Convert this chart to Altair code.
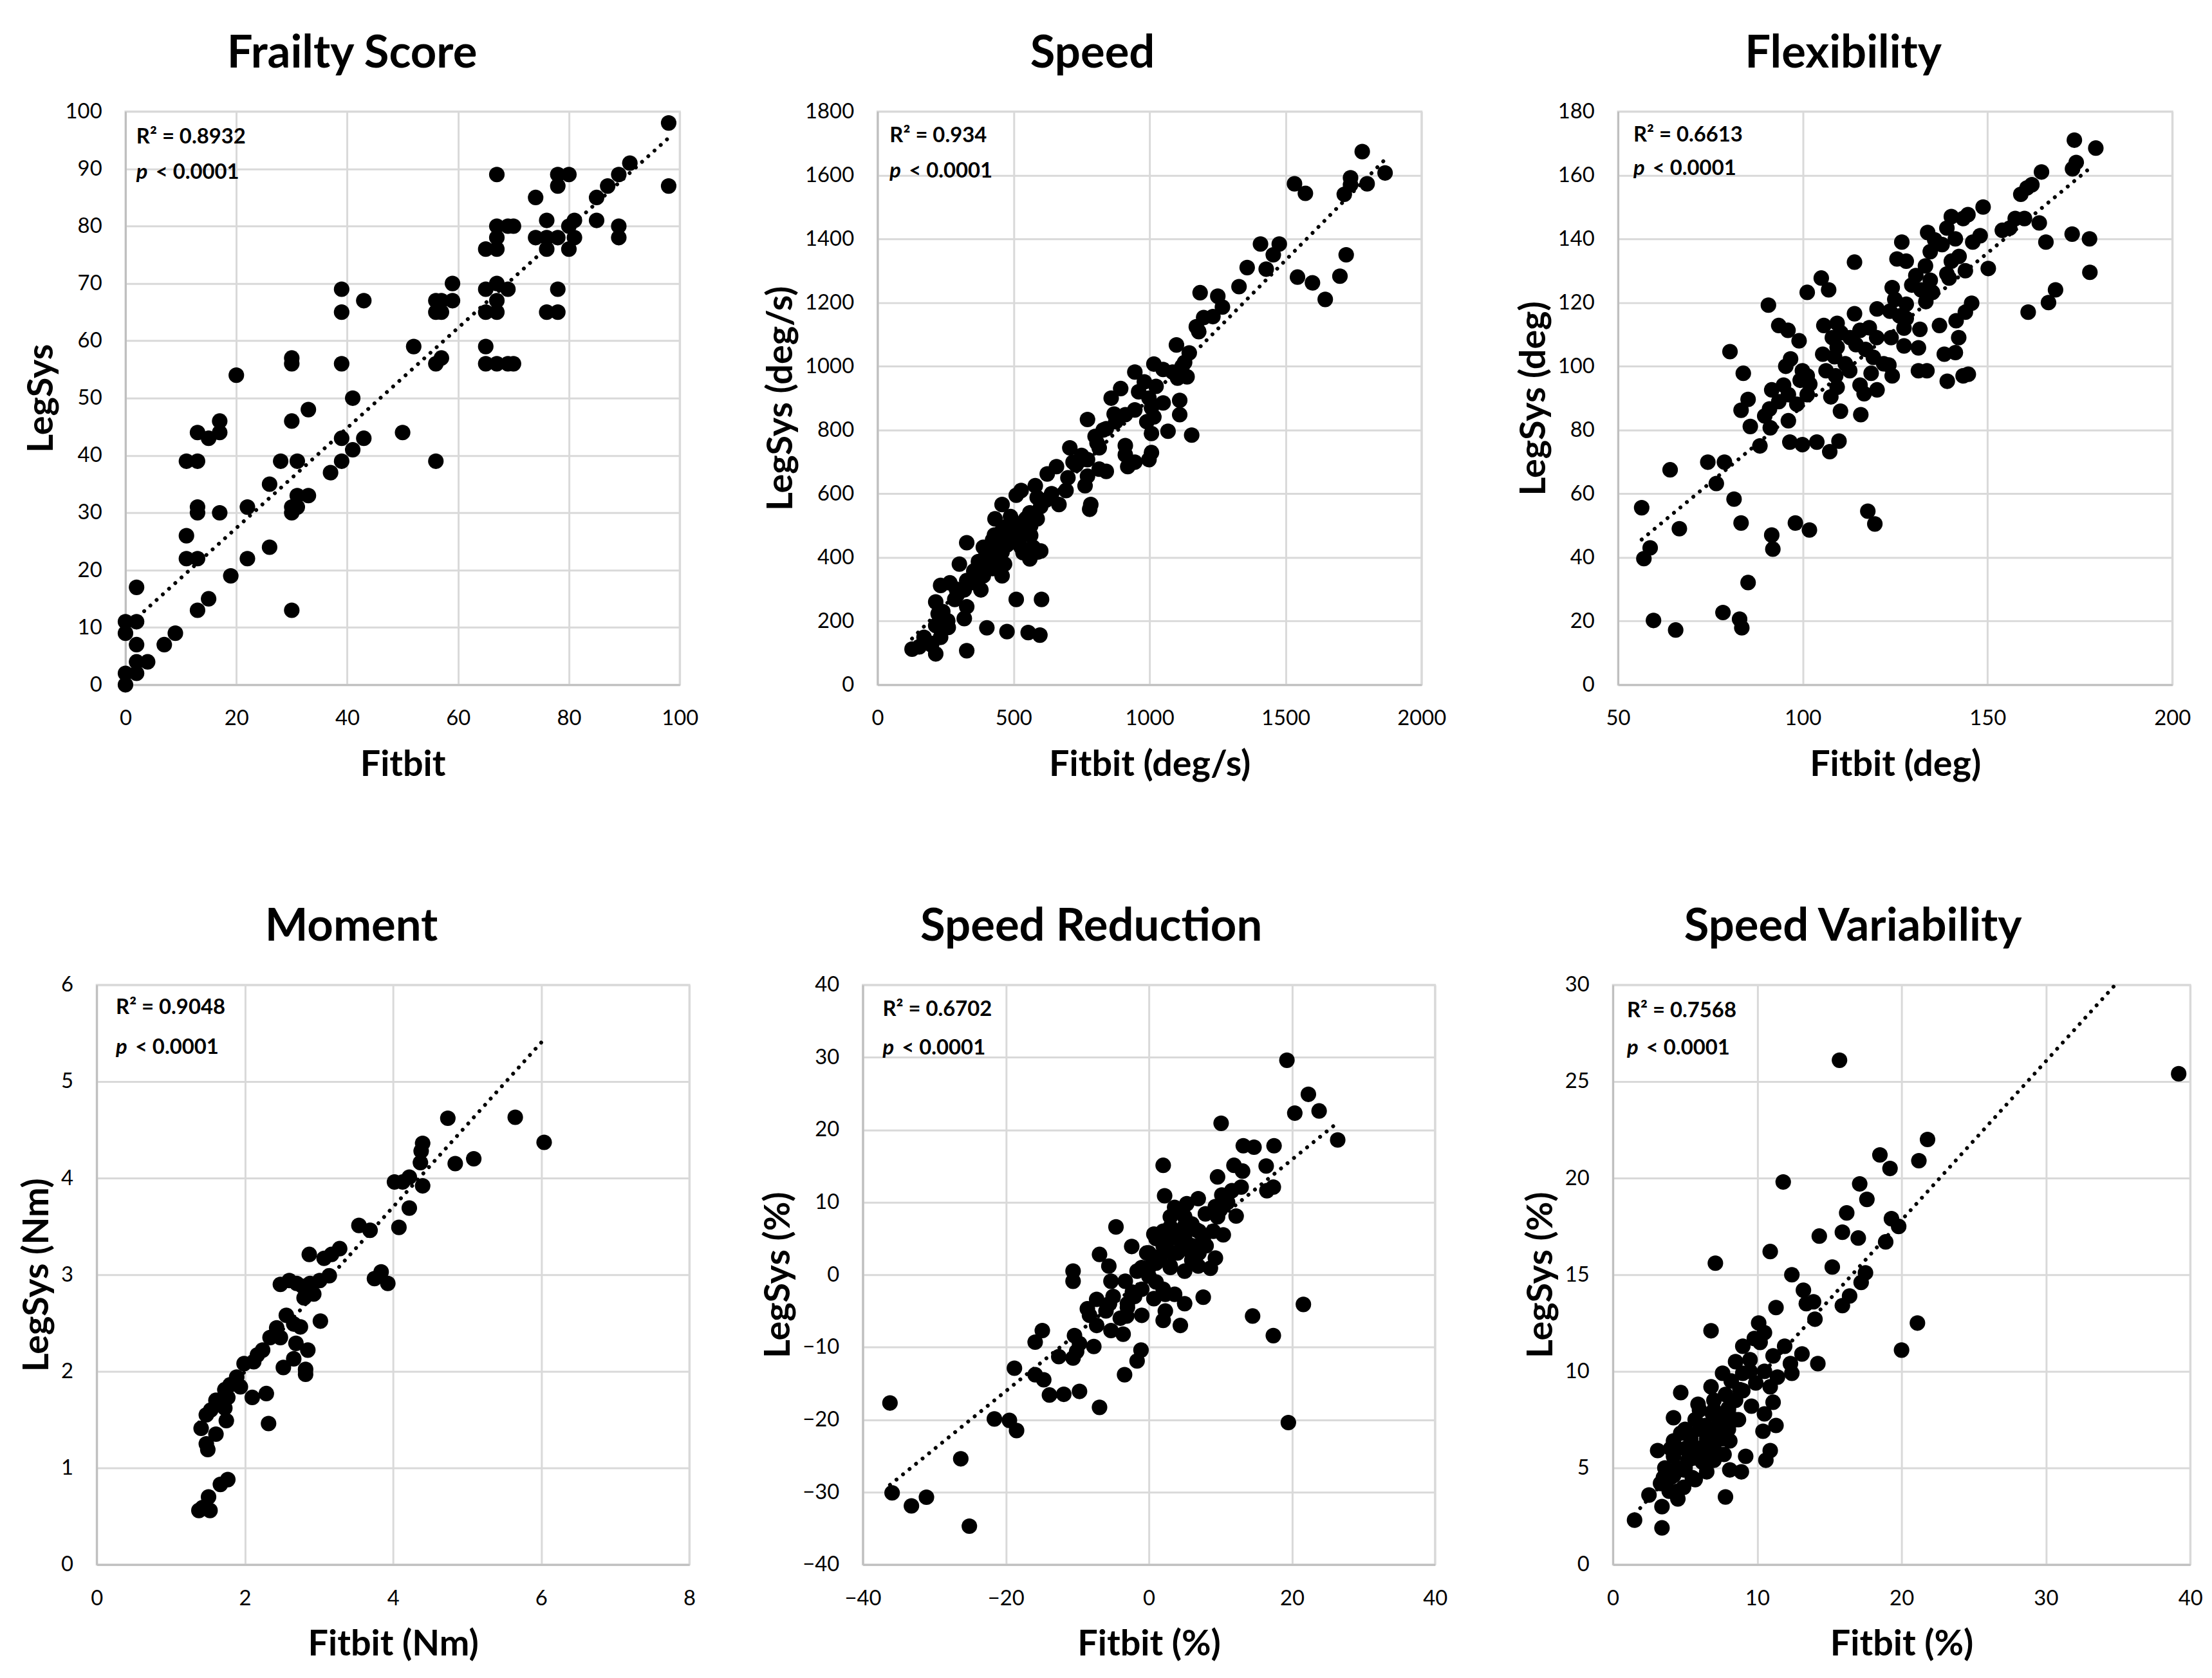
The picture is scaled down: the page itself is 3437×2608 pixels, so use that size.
import altair as alt
import pandas as pd

FONT = "Lato"
GRID = "#d9d9d9"
AXIS = "#bfbfbf"

# ---------------- data ----------------
frailty_pts = [(98,98),(98,87),(91,91),(89,89),(87,87),(85,85),(85,81),(89,80),(89,78),(81,81),(80,80),(81,78),(80,76),
 (80,89),(78,89),(78,87),(74,85),(74,78),(76,81),(76,78),(76,76),(78,78),(78,69),(76,65),(78,65),
 (67,89),(67,80),(70,80),(69,80),(67,78),(65,76),(67,76),(65,69),(67,70),(69,69),(67,67),(65,65),(67,65),
 (65,59),(65,56),(67,56),(69,56),(70,56),(59,70),(59,67),(56,67),(57,67),(56,65),(57,65),(57,57),(56,56),
 (52,59),(56,39),(50,44),(43,67),(39,69),(39,65),(39,56),(41,50),(39,43),(43,43),(41,41),(39,39),(37,37),
 (33,48),(30,57),(30,56),(30,46),(31,39),(28,39),(26,35),(33,33),(31,33),(30,31),(31,31),(30,30),(26,24),(30,13),
 (20,54),(22,31),(22,22),(19,19),(17,46),(17,44),(15,43),(13,44),(11,39),(13,39),(13,31),(13,30),(17,30),
 (11,26),(11,22),(13,22),(15,15),(13,13),(9,9),(7,7),(2,17),(2,11),(0,11),(0,9),(2,7),(4,4),(2,4),(2,2),(0,2),(0,0)]

speed_pts = [(1782,1674),(1866,1607),(1800,1573),(1739,1592),(1739,1570),(1716,1540),(1533,1573),(1573,1543),
 (1408,1384),(1477,1384),(1455,1350),(1429,1305),(1359,1310),(1329,1250),(1544,1280),(1599,1262),(1646,1210),
 (1700,1283),(1723,1350),(1186,1231),(1251,1220),(1268,1186),(1233,1156),(1199,1153),(1181,1109),(1172,1124),
 (1099,1067),(1146,1042),(1129,1012),(1016,1007),(946,982),(1085,982),(1103,963),(1138,967),(981,951),(1024,937),
 (894,930),(859,900),(998,900),(1111,893),(1050,885),(1007,870),(946,863),(911,848),(876,826),(1111,848),(1016,841),
 (990,826),(772,833),(1068,796),(1007,789),(1155,784),(841,804),(807,759),(911,751),(815,744),(911,722),(1007,729),
 (998,707),(946,699),(920,685),(707,744),(719,699),(772,707),(815,677),(841,670),(658,685),(624,662),(772,655),
 (763,625),(693,610),(580,625),(528,610),(587,588),(667,566),(784,566),(780,551),(458,566),(432,521),(510,595),
 (489,528),(545,521),(587,521),(563,499),(458,484),(502,469),(528,469),(563,469),(423,454),(476,439),(528,432),
 (572,432),(589,417),(389,432),(328,446),(458,417),(397,402),(441,394),(371,387),(467,379),(423,365),(301,379),
 (354,357),(389,342),(458,342),(328,327),(266,320),(232,312),(319,298),(380,298),(293,283),(284,268),(214,260),
 (328,245),(223,223),(319,208),(258,201),(214,186),(232,149),(171,149),(197,126),(127,112),(153,119),(214,97),
 (328,107),(402,179),(476,167),(510,268),(554,164),(597,156),(603,268),
 (420,420),(445,440),(470,460),(500,490),(520,505),(480,500),(450,470),(540,500),(560,540),(600,560),(620,580),
 (640,600),(700,650),(730,690),(750,720),(800,780),(830,800),(870,850),(960,920),(1050,990),(1120,1000),(360,360),
 (340,320),(400,380),(430,470),(490,455),(515,445),(550,480),(535,415),(560,395),(600,420),(260,180),(200,130),
 (240,230),(290,300),(370,330)]

flex_pts = [(173.5,171),(179.3,168.5),(174,164),(173,162),(164.6,161),(162,157),(160.7,156),(159,154),(148.8,150),
 (144.7,147.6),(143.4,146.4),(140.2,147),(139,143.4),(148,141),(146,139),(154,142.7),(156,143.4),(157.5,146.4),
 (160,146.4),(164,145),(165.8,139),(172.9,141.5),(177.6,140),(177.7,129.5),(168.4,124),(166.5,120),(161,117),
 (133.8,142),(135.7,139.7),(141.3,140),(137.7,138.2),(134.5,136),(126.8,139),(142.3,134.5),(140.2,133),(144,130),
 (150.2,130.7),(139,129),(139.6,127.7),(125.5,133.7),(128,133),(133.2,131.5),(130.6,128.5),(134.5,127),(129.5,125.5),
 (135.1,123.2),(132,124),(124.2,124.7),(124.9,121),(128,119.5),(133.3,120.3),(145.7,119.8),(144,117),(141.5,114.3),
 (137,112.8),(131.7,111.6),(127.4,112),(123.6,117.3),(126.2,115.8),(128,115),(120.1,118),(123.9,109),(127.4,106.4),
 (131.3,105.8),(142.2,109),(138.3,103.8),(141.3,104.3),(124.2,97),(123.3,100.4),(131.3,98.6),(133.6,98.6),(139.1,95.3),
 (143.4,97),(144.8,97.5),(114,132.7),(105,127.7),(107,124),(101.2,123.2),(90.7,119.2),(93.5,112.8),(96,111.3),(99,108),
 (105.7,112.8),(109.3,113.5),(114,116.5),(110.3,110.5),(112.8,109),(115.5,111.3),(118,112.1),(120,109),(108,109),
 (109.3,106),(114.4,106.8),(117,105.3),(105.4,103.8),(108.6,103),(111.5,100.8),(119.1,102.8),(121.9,100.8),(96.7,102.3),
 (95.4,100),(99.9,98.6),(101.2,97),(106.3,98.6),(108.9,97),(112.7,98.6),(118.5,97.8),(99.3,95.6),(101.9,94.4),(94.8,94.1),
 (91.6,92.6),(96.1,91.1),(101.2,91.1),(109.3,93.4),(115.5,94.1),(116.6,91.4),(120.1,92.6),(107.6,90.4),(93.5,88.9),
 (98.4,88.1),(85.2,89.6),(83.3,86.2),(91,86.6),(89.7,84.4),(110.2,85.9),(115.7,84.8),(96.1,82.9),(85.8,81.1),(91.2,80.7),
 (96.5,76.2),(99.9,75.4),(103.8,76.2),(109.8,76.5),(107.3,73.2),(88.4,75),(80.3,104.6),(83.9,97.8),(74.3,69.9),(78.8,69.9),
 (64.1,67.5),(76.6,63.2),(81.4,58.3),(83.3,50.8),(66.6,49),(56.4,55.6),(58.7,43),(57,39.6),(91.6,47),(91.9,42.6),(98,50.8),
 (101.8,48.6),(117.6,54.5),(119.5,50.5),(85.2,32.1),(59.6,20.2),(65.6,17.2),(78.4,22.7),(82.9,20.6),(83.5,17.9)]

moment_pts = [(4.74,4.62),(5.65,4.63),(6.04,4.37),(5.09,4.20),(4.84,4.15),(4.40,4.36),(4.38,4.28),(4.37,4.16),(4.40,3.92),
 (4.02,3.96),(4.13,3.96),(4.22,4.01),(4.22,3.69),(4.08,3.49),(3.54,3.51),(3.69,3.46),(3.84,3.03),(3.75,2.96),(3.93,2.91),
 (3.28,3.27),(3.17,3.21),(3.07,3.17),(2.87,3.21),(3.14,2.99),(3.01,2.94),(2.88,2.91),(2.78,2.88),(2.60,2.94),(2.48,2.90),
 (2.70,2.91),(2.93,2.80),(2.80,2.76),(3.02,2.52),(2.56,2.58),(2.66,2.49),(2.75,2.46),(2.43,2.45),(2.48,2.35),(2.34,2.35),
 (2.24,2.22),(2.17,2.17),(2.12,2.10),(1.99,2.08),(2.69,2.29),(2.85,2.22),(2.66,2.13),(2.52,2.04),(2.82,2.02),(2.82,1.97),
 (2.29,1.77),(2.10,1.73),(2.32,1.46),(1.89,1.94),(1.80,1.86),(1.94,1.84),(1.73,1.81),(1.77,1.73),(1.67,1.68),(1.61,1.70),
 (1.73,1.62),(1.54,1.60),(1.75,1.49),(1.48,1.55),(1.61,1.35),(1.41,1.41),(1.48,1.25),(1.50,1.19),(1.77,0.88),(1.67,0.83),
 (1.51,0.70),(1.38,0.56),(1.53,0.56),(1.43,0.59)]

reduction_pts = [(19.3,29.6),(22.3,24.9),(23.8,22.6),(20.4,22.3),(26.4,18.6),(10.1,20.9),(17.5,17.8),(13.2,17.8),(14.7,17.6),
 (2.0,15.1),(11.9,15.1),(16.4,15.0),(13.1,14.3),(9.6,13.5),(17.4,12.1),(16.5,11.6),(12.9,12.1),(11.6,11.6),(10.2,11.0),
 (2.2,10.9),(12.2,8.1),(6.9,10.5),(5.3,9.8),(3.6,9.3),(9.3,9.4),(7.9,8.4),(9.6,8.0),(-4.6,6.6),(0.7,5.6),(3.0,6.6),(5.0,6.7),
 (6.6,6.2),(10.4,5.5),(7.6,5.0),(4.3,4.8),(2.3,4.4),(-2.4,3.9),(-0.3,3.0),(1.65,2.6),(3.3,3.0),(5.6,3.4),(9.3,2.3),(-6.9,2.8),
 (-5.6,1.2),(1.0,1.6),(3.0,1.2),(6.9,1.2),(8.6,0.9),(5.0,0.5),(-1.65,0.5),(0,-0.2),(-10.6,0.5),(-10.6,-0.9),(-5.3,-0.9),
 (-3.3,-0.9),(-2.3,-2.4),(2.3,-2.7),(3.6,-2.7),(7.6,-3.1),(0.7,-3.3),(-7.3,-3.4),(-5.5,-4.0),(5.0,-4.0),(-8.6,-4.7),
 (-3.0,-4.5),(2.3,-5.0),(-1.0,-5.6),(-8.3,-5.6),(-3.1,-5.7),(14.5,-5.7),(2.0,-6.3),(4.4,-7.0),(-7.3,-7.0),(-5.3,-7.7),
 (-3.6,-8.2),(17.4,-8.4),(-14.9,-7.7),(-15.9,-9.3),(-10.4,-8.4),(-9.7,-9.5),(-7.7,-9.9),(-10.1,-10.6),(-1.1,-10.4),
 (-1.65,-11.9),(-12.6,-11.3),(-10.6,-11.5),(21.6,-4.1),(-18.8,-12.9),(-15.9,-13.8),(-14.7,-14.5),(-3.4,-13.8),
 (-13.9,-16.6),(-11.9,-16.5),(-9.7,-16.1),(-6.9,-18.3),(-36.2,-17.7),(-21.6,-19.9),(-19.5,-20.1),(-18.5,-21.5),
 (19.5,-20.4),(-26.3,-25.4),(-35.9,-30.1),(-33.2,-31.9),(-31.1,-30.7),(-25.1,-34.7),
 (1,2),(2,4),(3,5),(4,6),(5,5),(6,4),(0,1),(1,-1),(3,1),(4,3),(2,6),(5,8),(6,7),(7,6),(-1,-2),(-2,-3),(-1,1),(0,3),(1,5),
 (3,8),(4,9),(6,2),(8,4),(7,3),(2,-2),(-3,-4),(-4,-6),(-6,-5),(-5,-3),(9,6),(10,9),(11,10)]

variability_pts = [(39.2,25.4),(15.7,26.1),(21.8,22.0),(18.5,21.2),(21.2,20.9),(19.2,20.5),(11.8,19.8),(17.1,19.7),
 (17.6,18.9),(16.2,18.2),(19.3,17.9),(19.8,17.5),(15.9,17.2),(14.3,17.0),(17.0,16.9),(18.9,16.7),(10.9,16.2),(7.1,15.6),
 (15.2,15.4),(12.4,15.0),(17.5,15.1),(17.2,14.6),(13.2,14.2),(13.9,13.6),(13.4,13.5),(16.4,13.9),(15.9,13.4),(11.3,13.3),
 (14.0,12.7),(21.1,12.5),(10.1,12.5),(6.8,12.1),(10.5,12.0),(9.8,11.7),(10.2,11.5),(9.0,11.3),(11.9,11.3),(20.0,11.1),
 (13.1,10.9),(11.1,10.8),(9.5,10.6),(8.5,10.5),(12.3,10.4),(14.2,10.4),(10.5,10.0),(12.4,9.9),(9.0,9.9),(7.6,9.9),
 (11.4,9.7),(8.2,9.5),(9.9,9.4),(10.9,9.2),(8.8,9.05),(4.7,8.9),(7.8,8.8),(7.0,8.5),(11.1,8.4),(5.9,8.3),(9.6,8.2),
 (8.0,8.1),(10.5,7.8),(6.9,7.8),(8.7,7.5),(4.2,7.6),(5.7,7.5),(7.4,7.4),(11.3,7.2),(6.4,7.2),(7.8,6.9),(10.4,6.9),
 (4.7,6.8),(6.9,6.6),(5.4,6.5),(4.2,6.4),(8.1,6.4),(6.4,6.2),(5.7,6.0),(3.1,5.9),(10.9,5.9),(7.7,5.7),(9.2,5.6),(4.2,5.6),
 (5.2,5.4),(10.6,5.4),(6.2,5.3),(7.0,5.4),(3.6,5.0),(4.9,4.9),(8.1,4.9),(8.9,4.8),(6.5,4.8),(4.2,4.6),(5.7,4.4),(3.3,4.2),
 (4.9,4.0),(3.9,3.8),(2.5,3.6),(4.5,3.4),(7.8,3.5),(3.4,3.0),(1.5,2.3),(3.4,1.9),
 (4,4.5),(5,5),(5.5,5.5),(6,6),(6.5,6.5),(7,7),(7.5,7.5),(8,8),(8.5,8.5),(6,7),(5,6),(7,6),(4.5,5),(5.5,4.5),(6.5,5.5),
 (7,8),(8,7),(6,8),(9,9),(5,7),(4,6),(3.5,4.5),(4.5,3.8),(7.5,6.5),(8.5,7.5),(6.8,9.2),(9.5,10)]

# trend line end points
frailty_trend = [(0, 9.9), (98, 95.4)]
speed_trend = [(127, 145), (1869, 1652)]
flex_trend = [(56.4, 45.6), (178, 162.5)]
moment_trend = [(1.38, 1.47), (6.02, 5.42)]
reduction_trend = [(-36.2, -29.0), (26.4, 21.0)]
variability_trend = [(1.5, 2.6), (34.8, 30.0)]

titles = ["Frailty Score", "Speed", "Flexibility", "Moment", "Speed Reduction", "Speed Variability"]
x_titles = ["Fitbit", "Fitbit (deg/s)", "Fitbit (deg)", "Fitbit (Nm)", "Fitbit (%)", "Fitbit (%)"]
y_titles = ["LegSys", "LegSys (deg/s)", "LegSys (deg)", "LegSys (Nm)", "LegSys (%)", "LegSys (%)"]
r2_labels = ["R² = 0.8932", "R² = 0.934", "R² = 0.6613", "R² = 0.9048", "R² = 0.6702", "R² = 0.7568"]
p_label = "< 0.0001"

x_ticks = [list(range(0, 101, 20)), list(range(0, 2001, 500)), list(range(50, 201, 50)),
           list(range(0, 9, 2)), list(range(-40, 41, 20)), list(range(0, 41, 10))]
y_ticks = [list(range(0, 101, 10)), list(range(0, 1801, 200)), list(range(0, 181, 20)),
           list(range(0, 7, 1)), list(range(-40, 41, 10)), list(range(0, 31, 5))]

ONE = pd.DataFrame({"k": [0]})


def panel(i, pts, trend, w, h, tx, ty1, ty2, tdx, ext):
    df = pd.DataFrame(pts, columns=["x", "y"])
    tdf = pd.DataFrame(trend, columns=["x", "y"])
    xs = alt.Scale(domain=[x_ticks[i][0], x_ticks[i][-1]], nice=False, zero=False)
    ys = alt.Scale(domain=[y_ticks[i][0], y_ticks[i][-1]], nice=False, zero=False)
    xax = alt.Axis(values=x_ticks[i], title=x_titles[i], format="d")
    yax = alt.Axis(values=y_ticks[i], title=y_titles[i], format="d")
    X = alt.X("x:Q", scale=xs, axis=xax)
    Y = alt.Y("y:Q", scale=ys, axis=yax)
    dots = alt.Chart(df).mark_circle(size=590, color="black", opacity=1).encode(x=X, y=Y)
    line = alt.Chart(tdf).mark_line(color="black", strokeWidth=6, strokeDash=[0.1, 13],
                                    strokeCap="round").encode(x=X, y=Y)
    txt = dict(align="left", baseline="alphabetic", font=FONT, fontSize=33, fontWeight="bold", color="black")
    r2 = alt.Chart(ONE).mark_text(text=r2_labels[i], **txt).encode(x=alt.value(tx), y=alt.value(ty1))
    p1 = alt.Chart(ONE).mark_text(text="p", fontStyle="italic", **txt).encode(x=alt.value(tx), y=alt.value(ty2))
    p2 = alt.Chart(ONE).mark_text(text=p_label, **txt).encode(x=alt.value(tx + 30), y=alt.value(ty2))
    ttl = alt.Chart(ONE).mark_text(text=titles[i], align="center", baseline="alphabetic", font=FONT,
                                   fontSize=71, fontWeight="bold", color="black").encode(
        x=alt.value(w / 2 + tdx), y=alt.value(-69))
    layers = [dots, line, r2, p1, p2, ttl]
    if ext > 0:
        # invisible spacer to the right of the panel (sets the gap to the next panel)
        layers.append(alt.Chart(ONE).mark_rule(opacity=0, strokeOpacity=0).encode(
            x=alt.value(w + ext), y=alt.value(0), y2=alt.value(h)))
    return alt.layer(*layers).properties(width=w, height=h)


def spacer(w):
    return alt.Chart(ONE).mark_rule(opacity=0, strokeOpacity=0).encode(
        x=alt.value(0), y=alt.value(0), y2=alt.value(1)).properties(
        width=w, height=1, view=alt.ViewBackground(stroke="transparent"))


p1 = panel(0, frailty_pts, frailty_trend, 866, 896, 17, 50, 105, -79, 126)
p2 = panel(1, speed_pts, speed_trend, 850, 896, 19, 48, 103, -89, 144)
p3 = panel(2, flex_pts, flex_trend, 866, 896, 24, 47, 99, -81, 0)
p4 = panel(3, moment_pts, moment_trend, 926, 906, 30, 46, 108, -65, 108)
p5 = panel(4, reduction_pts, reduction_trend, 894, 906, 31, 49, 109, -90, 134)
p6 = panel(5, variability_pts, variability_trend, 902, 906, 22, 51, 109, -76, 0)

row1 = alt.hconcat(spacer(8), p1, p2, p3, spacing=0)
row2 = alt.hconcat(spacer(1), p4, p5, p6, spacing=0)

chart = alt.vconcat(row1, row2, spacing=186).configure_axis(
    grid=True, gridColor=GRID, gridWidth=3, domainColor=AXIS, domainWidth=3, ticks=False,
    labelFont=FONT, labelFontSize=33, labelColor="black", labelPadding=37,
    labelFlush=False, labelOverlap=False,
    titleFont=FONT, titleFontSize=56, titleFontWeight="bold", titleColor="black"
).configure_axisX(titlePadding=28).configure_axisY(titlePadding=8).configure_view(
    stroke=GRID, strokeWidth=3
).properties(padding={"left": 15, "top": 31, "right": 5, "bottom": 5}, background="white")

chart.save("out.html", embed_options={"renderer": "svg", "actions": False})
